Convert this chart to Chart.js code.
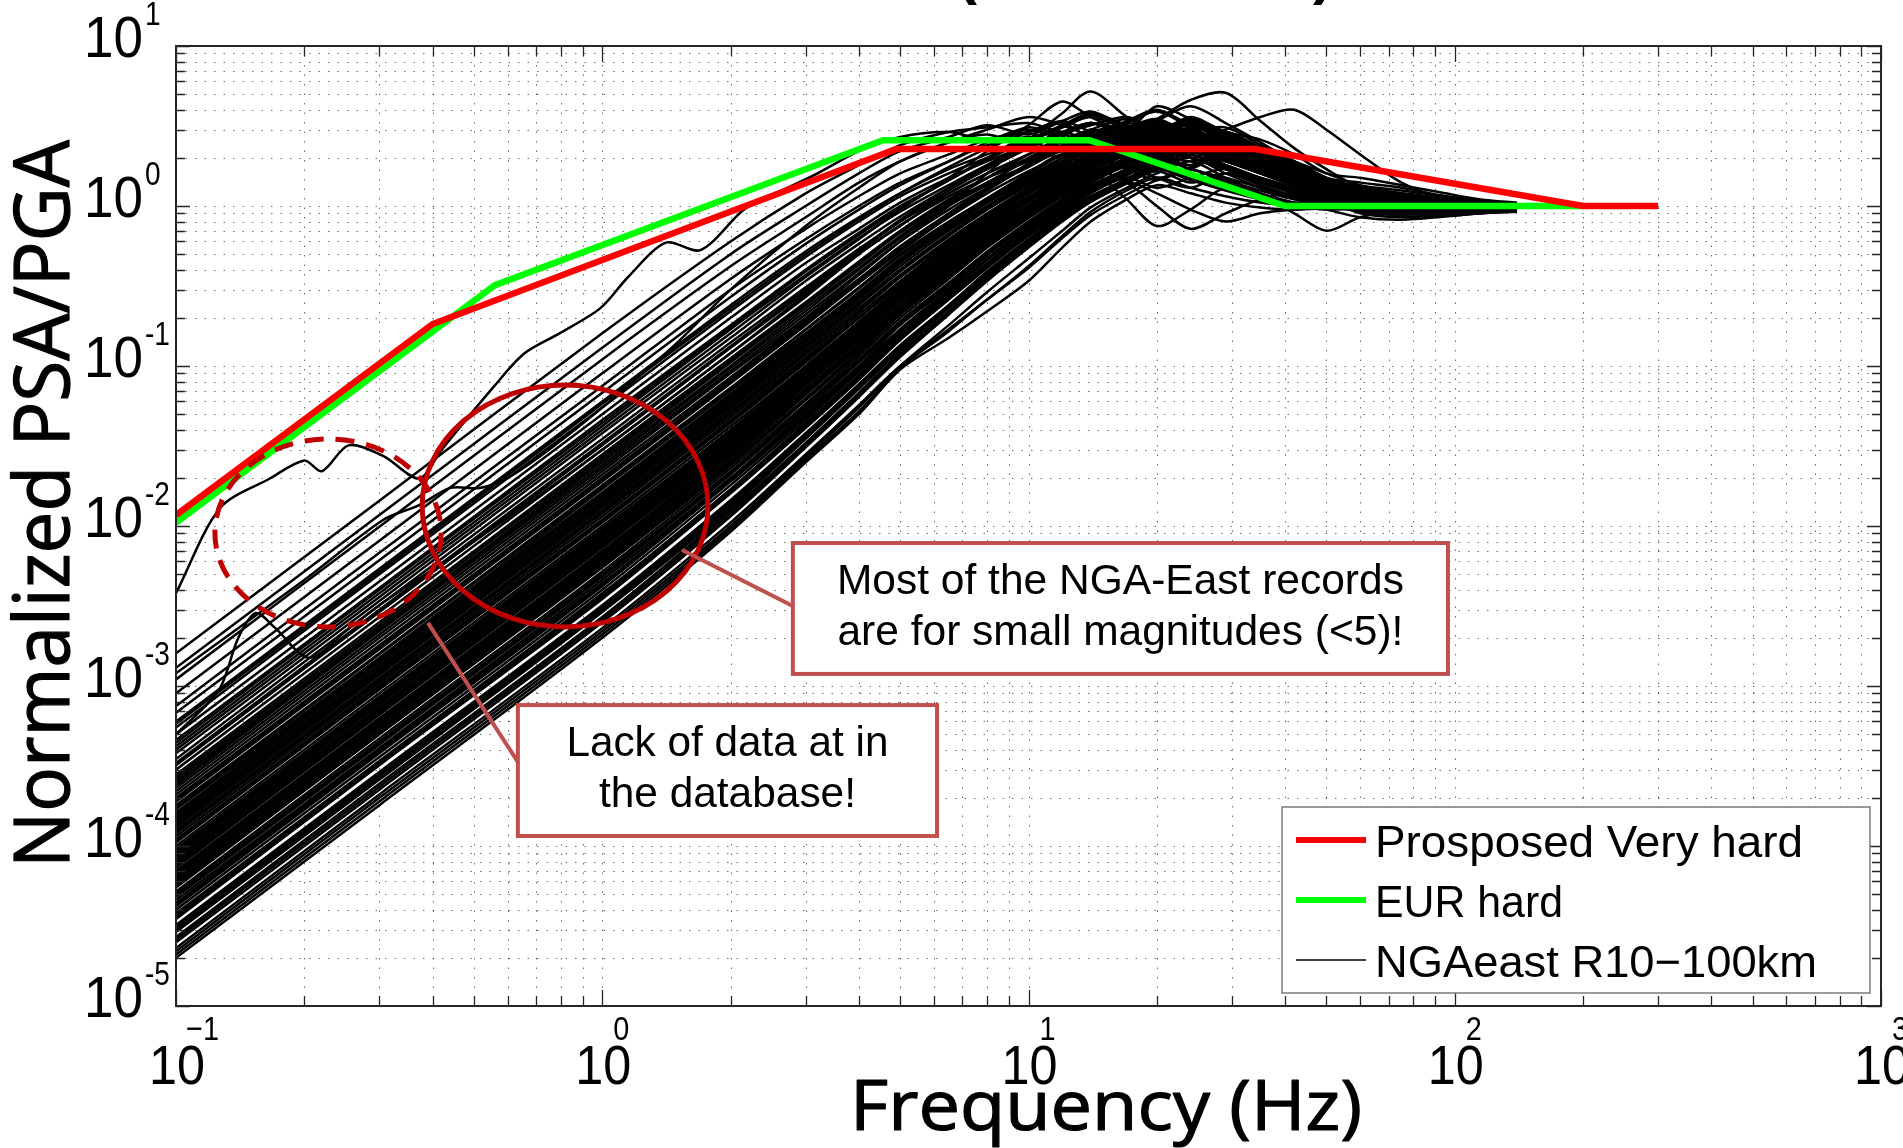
<!DOCTYPE html>
<html>
<head>
<meta charset="utf-8">
<title>Normalized PSA/PGA vs Frequency</title>
<script src="https://cdn.jsdelivr.net/npm/chart.js@4.4.1/dist/chart.umd.min.js"></script>
<style>
  html, body { margin: 0; padding: 0; background: #fff; }
  #wrap { width: 1903px; height: 1148px; overflow: hidden; }
</style>
</head>
<body>
<div id="wrap"><canvas id="psa-chart" width="1903" height="1148"></canvas></div>
<script>
"use strict";

// frequency grid (Hz) shared by the NGA-East records
const ngaFreq = [0.1, 0.3, 1, 2, 3, 4, 5, 6.5, 8, 10, 12, 14, 17, 20, 24, 29, 35, 42, 50, 60, 75, 95, 115, 140];

// normalized PSA/PGA of the NGA-East records (R 10-100 km), one row per record
const ngaRecords = [
    [1.6e-3, 0.0144, 0.16, 0.6, 1.2, 1.8, 2.4, 2.9, 3.1, 3.3, 2.9, 3.2, 3.6, 3.0, 2.6, 2.9, 2.3, 1.9, 1.6, 1.35, 1.25, 1.15, 1.08, 1.03],
    [1.3e-3, 0.0117, 0.13, 0.5, 1.0, 1.6, 2.2, 2.7, 3.2, 2.8, 3.4, 3.9, 3.1, 2.7, 3.3, 2.6, 2.0, 1.7, 1.45, 1.25, 1.1, 1.02, 1.0, 1.0],
    [1.1e-3, 0.0099, 0.11, 0.42, 0.85, 1.4, 1.9, 2.5, 3.0, 3.6, 3.2, 2.8, 3.4, 4.0, 3.2, 2.7, 2.2, 1.8, 1.5, 1.3, 1.12, 1.03, 1.0, 0.99],
    [9e-4, 8.1e-3, 0.09, 0.35, 0.72, 1.15, 1.6, 2.1, 2.6, 2.9, 3.3, 2.7, 3.1, 3.5, 2.8, 2.4, 2.0, 1.7, 1.4, 1.2, 1.08, 1.02, 1.0, 1.0],
    [7.5e-4, 6.8e-3, 0.075, 0.3, 0.62, 1.0, 1.4, 1.9, 2.4, 2.7, 2.5, 3.0, 2.6, 2.9, 3.4, 2.6, 1.9, 1.6, 1.35, 1.18, 1.06, 1.0, 0.98, 1.0],
    [6.8e-4, 6.1e-3, 0.068, 0.27, 0.58, 0.95, 1.35, 1.9, 2.5, 3.0, 2.6, 2.3, 2.7, 3.1, 2.6, 2.9, 2.3, 1.8, 1.45, 1.2, 1.07, 1.0, 1.0, 1.0],
    [6e-4, 5.4e-3, 0.06, 0.24, 0.52, 0.85, 1.2, 1.7, 2.1, 2.6, 3.1, 3.6, 3.0, 2.5, 2.9, 3.1, 2.4, 1.9, 1.5, 1.25, 1.18, 1.1, 1.05, 1.02],
    [5.8e-4, 5.2e-3, 0.058, 0.23, 0.5, 0.83, 1.2, 1.75, 2.3, 2.9, 3.4, 2.9, 2.4, 2.8, 3.5, 2.9, 2.3, 1.85, 1.5, 1.3, 1.18, 1.1, 1.05, 1.02],
    [5.5e-4, 5e-3, 0.055, 0.22, 0.48, 0.8, 1.15, 1.6, 2.0, 2.5, 2.2, 2.7, 2.3, 2.0, 2.4, 2.1, 1.8, 1.5, 1.3, 1.12, 1.03, 1.0, 1.0, 1.0],
    [5e-4, 4.5e-3, 0.05, 0.2, 0.44, 0.72, 1.05, 1.5, 1.9, 2.4, 2.8, 2.4, 2.9, 3.3, 2.7, 2.3, 2.1, 1.7, 1.4, 1.2, 1.08, 1.0, 0.97, 1.0],
    [4.6e-4, 4.1e-3, 0.046, 0.18, 0.4, 0.68, 1.0, 1.45, 1.95, 2.6, 3.2, 3.8, 3.2, 2.8, 3.3, 2.7, 2.3, 1.9, 1.5, 1.3, 1.2, 1.1, 1.04, 1.0],
    [4.4e-4, 4e-3, 0.044, 0.175, 0.39, 0.66, 0.97, 1.45, 2.0, 2.7, 2.3, 2.0, 2.6, 3.0, 2.5, 2.1, 1.75, 1.5, 1.3, 1.15, 1.05, 1.0, 0.97, 0.98],
    [4.2e-4, 3.8e-3, 0.042, 0.17, 0.37, 0.63, 0.92, 1.35, 1.8, 2.3, 2.0, 2.6, 3.1, 2.5, 2.2, 2.6, 2.2, 1.6, 1.3, 1.12, 1.03, 0.98, 1.0, 1.0],
    [4e-4, 3.6e-3, 0.04, 0.16, 0.36, 0.62, 0.95, 1.5, 2.2, 3.2, 4.5, 3.6, 3.0, 4.2, 3.5, 2.9, 2.6, 2.1, 1.6, 1.5, 1.35, 1.2, 1.1, 1.05],
    [3.8e-4, 3.4e-3, 0.038, 0.15, 0.34, 0.58, 0.86, 1.3, 1.75, 2.3, 2.8, 3.3, 2.8, 3.2, 2.7, 2.2, 1.9, 1.55, 1.3, 1.15, 1.05, 1.0, 1.0, 1.0],
    [3.5e-4, 3.2e-3, 0.035, 0.14, 0.31, 0.54, 0.8, 1.2, 1.6, 2.1, 2.6, 3.0, 3.5, 2.9, 3.6, 2.8, 2.0, 1.6, 1.35, 1.3, 1.2, 1.12, 1.05, 1.02],
    [3.3e-4, 3e-3, 0.033, 0.133, 0.3, 0.53, 0.82, 1.3, 1.8, 2.5, 3.1, 3.7, 3.1, 2.6, 2.9, 2.4, 2.0, 1.7, 1.45, 1.25, 1.12, 1.06, 1.02, 1.0],
    [3.2e-4, 2.9e-3, 0.032, 0.13, 0.29, 0.52, 0.8, 1.25, 1.7, 2.3, 2.9, 2.5, 2.2, 2.6, 3.0, 2.4, 2.0, 1.65, 1.35, 1.15, 1.05, 1.0, 1.0, 1.0],
    [3e-4, 2.7e-3, 0.03, 0.12, 0.28, 0.5, 0.76, 1.15, 1.5, 1.9, 2.3, 2.7, 2.2, 2.6, 2.4, 2.0, 1.7, 1.45, 1.25, 1.1, 1.02, 0.98, 1.0, 1.0],
    [2.8e-4, 2.5e-3, 0.028, 0.112, 0.25, 0.45, 0.7, 1.1, 1.5, 2.0, 2.5, 2.1, 2.5, 2.8, 3.2, 2.5, 2.0, 1.7, 1.4, 1.05, 0.92, 0.9, 0.93, 0.96],
    [2.7e-4, 2.4e-3, 0.027, 0.108, 0.245, 0.44, 0.69, 1.08, 1.5, 2.1, 2.7, 3.3, 2.8, 2.4, 2.2, 2.5, 2.0, 1.6, 1.3, 1.1, 0.97, 0.93, 0.95, 0.97],
    [2.6e-4, 2.3e-3, 0.026, 0.105, 0.24, 0.43, 0.68, 1.05, 1.4, 1.8, 2.4, 2.9, 3.3, 3.9, 3.1, 2.5, 2.2, 1.8, 1.45, 1.2, 1.07, 1.0, 1.0, 1.0],
    [2.5e-4, 2.25e-3, 0.025, 0.1, 0.23, 0.41, 0.65, 1.02, 1.4, 1.95, 2.5, 2.2, 2.7, 3.2, 2.8, 2.3, 1.9, 1.6, 1.35, 1.2, 1.1, 1.05, 1.02, 1.0],
    [2.4e-4, 2.2e-3, 0.024, 0.097, 0.22, 0.4, 0.63, 1.0, 1.35, 1.8, 2.3, 2.8, 2.4, 2.1, 2.5, 2.8, 2.1, 1.7, 1.4, 1.18, 1.05, 1.0, 1.0, 1.0],
    [2.3e-4, 2.1e-3, 0.023, 0.093, 0.21, 0.38, 0.6, 0.95, 1.3, 1.75, 2.2, 2.0, 2.5, 2.9, 2.3, 2.6, 1.9, 1.5, 1.3, 1.0, 0.9, 0.87, 0.9, 0.94],
    [2.2e-4, 2e-3, 0.022, 0.09, 0.2, 0.37, 0.6, 1.0, 1.6, 2.6, 3.8, 5.2, 3.6, 2.8, 3.2, 2.5, 1.9, 1.6, 1.35, 1.15, 1.05, 1.0, 1.0, 1.0],
    [2.1e-4, 1.9e-3, 0.021, 0.085, 0.195, 0.35, 0.56, 0.9, 1.3, 1.8, 2.4, 2.1, 1.8, 2.2, 2.0, 1.7, 1.5, 1.3, 1.15, 1.05, 1.0, 1.0, 1.0, 1.0],
    [2e-4, 1.8e-3, 0.02, 0.082, 0.19, 0.34, 0.53, 0.85, 1.2, 1.65, 2.1, 2.6, 3.2, 2.7, 3.0, 2.4, 1.8, 1.5, 1.25, 1.2, 1.15, 1.1, 1.05, 1.02],
    [1.95e-4, 1.75e-3, 0.0195, 0.08, 0.185, 0.34, 0.54, 0.88, 1.28, 1.85, 2.5, 2.1, 2.6, 2.3, 2.9, 2.4, 1.95, 1.6, 1.35, 1.15, 1.05, 1.0, 1.0, 1.0],
    [1.9e-4, 1.7e-3, 0.019, 0.078, 0.18, 0.33, 0.52, 0.86, 1.25, 1.8, 2.4, 3.0, 2.6, 3.3, 2.8, 2.4, 2.0, 1.6, 1.3, 1.12, 1.04, 1.0, 1.0, 1.0],
    [1.8e-4, 1.6e-3, 0.018, 0.073, 0.17, 0.31, 0.5, 0.8, 1.1, 1.5, 1.9, 2.3, 2.8, 3.4, 4.2, 3.3, 2.5, 1.9, 1.5, 1.4, 1.3, 1.15, 1.08, 1.03],
    [1.75e-4, 1.58e-3, 0.0175, 0.072, 0.168, 0.305, 0.49, 0.79, 1.12, 1.6, 2.1, 2.7, 3.1, 2.6, 2.3, 2.7, 2.2, 1.75, 1.4, 1.25, 1.15, 1.08, 1.03, 1.0],
    [1.7e-4, 1.5e-3, 0.017, 0.07, 0.16, 0.29, 0.47, 0.76, 1.05, 1.5, 2.0, 2.5, 2.2, 2.6, 3.1, 2.7, 2.3, 1.8, 1.45, 1.2, 1.06, 1.0, 1.0, 1.0],
    [1.62e-4, 1.46e-3, 0.0162, 0.067, 0.156, 0.285, 0.46, 0.76, 1.08, 1.55, 2.0, 2.5, 2.2, 2.0, 2.4, 2.1, 1.7, 1.35, 1.1, 0.95, 0.9, 0.92, 0.95, 0.97],
    [1.6e-4, 1.45e-3, 0.016, 0.066, 0.15, 0.28, 0.45, 0.72, 1.0, 1.4, 1.8, 2.2, 2.0, 2.4, 2.8, 2.2, 1.7, 1.4, 1.2, 1.08, 1.0, 0.98, 1.0, 1.0],
    [1.55e-4, 1.4e-3, 0.0155, 0.064, 0.148, 0.27, 0.44, 0.73, 1.05, 1.5, 2.0, 2.6, 3.3, 2.9, 3.4, 2.8, 2.2, 1.8, 1.45, 1.2, 1.06, 1.0, 1.0, 1.0],
    [1.5e-4, 1.35e-3, 0.015, 0.062, 0.145, 0.27, 0.44, 0.75, 1.1, 1.6, 2.1, 1.7, 1.1, 0.75, 0.95, 1.3, 1.15, 0.9, 0.7, 0.85, 0.95, 1.0, 1.0, 1.0],
    [1.45e-4, 1.3e-3, 0.0145, 0.06, 0.14, 0.26, 0.42, 0.7, 1.0, 1.45, 1.9, 2.5, 3.0, 2.6, 2.2, 2.5, 2.1, 1.6, 1.3, 1.2, 1.12, 1.06, 1.02, 1.0],
    [1.4e-4, 1.26e-3, 0.014, 0.058, 0.135, 0.25, 0.4, 0.66, 0.95, 1.4, 1.9, 2.4, 3.0, 3.5, 4.6, 5.1, 3.4, 2.3, 1.7, 1.3, 1.1, 1.02, 1.0, 1.0],
    [1.38e-4, 1.24e-3, 0.0138, 0.057, 0.133, 0.245, 0.4, 0.67, 0.97, 1.4, 1.85, 2.35, 2.9, 3.4, 2.9, 2.4, 2.0, 1.65, 1.35, 1.15, 1.05, 1.0, 1.0, 1.0],
    [1.35e-4, 1.2e-3, 0.0135, 0.056, 0.13, 0.24, 0.39, 0.65, 0.95, 1.35, 1.8, 2.3, 2.0, 1.7, 2.1, 2.4, 2.0, 1.6, 1.3, 1.1, 1.0, 0.95, 0.97, 1.0],
    [1.3e-4, 1.17e-3, 0.013, 0.054, 0.125, 0.23, 0.37, 0.62, 0.9, 1.3, 1.7, 2.1, 2.6, 3.1, 2.5, 2.0, 1.6, 1.35, 1.2, 1.08, 1.0, 1.0, 1.0, 1.0],
    [1.25e-4, 1.12e-3, 0.0125, 0.052, 0.12, 0.22, 0.36, 0.6, 0.86, 1.25, 1.65, 2.0, 2.5, 2.2, 2.6, 2.2, 1.75, 1.45, 1.25, 0.95, 0.9, 0.92, 0.95, 0.97],
    [1.22e-4, 1.1e-3, 0.0122, 0.051, 0.12, 0.22, 0.36, 0.61, 0.89, 1.3, 1.75, 2.25, 2.0, 2.5, 2.2, 1.9, 1.6, 1.4, 1.2, 1.08, 1.0, 0.97, 0.98, 1.0],
    [1.2e-4, 1.08e-3, 0.012, 0.05, 0.118, 0.22, 0.36, 0.6, 0.88, 1.25, 1.6, 1.95, 2.4, 2.9, 3.5, 2.8, 2.2, 1.8, 1.45, 1.2, 1.06, 1.0, 0.98, 1.0],
    [1.15e-4, 1.04e-3, 0.0115, 0.048, 0.113, 0.21, 0.34, 0.58, 0.85, 1.25, 1.7, 2.2, 2.9, 2.5, 2.8, 2.3, 1.85, 1.5, 1.25, 1.1, 1.02, 1.0, 1.0, 1.0],
    [1.1e-4, 1.0e-3, 0.011, 0.046, 0.11, 0.2, 0.33, 0.56, 0.82, 1.2, 1.55, 1.9, 2.3, 2.0, 2.3, 2.6, 2.0, 1.6, 1.3, 1.12, 1.03, 1.0, 1.0, 1.0],
    [1.08e-4, 9.7e-4, 0.0108, 0.045, 0.107, 0.2, 0.33, 0.56, 0.84, 1.22, 1.65, 2.1, 2.7, 3.2, 2.7, 2.9, 2.3, 1.8, 1.45, 1.2, 1.08, 1.03, 1.0, 1.0],
    [1.05e-4, 9.5e-4, 0.0105, 0.044, 0.105, 0.2, 0.32, 0.55, 0.82, 1.2, 1.6, 2.05, 2.6, 2.3, 2.0, 2.3, 1.9, 1.55, 1.3, 1.12, 1.03, 1.0, 1.0, 1.0],
    [1e-4, 9e-4, 0.01, 0.042, 0.1, 0.19, 0.31, 0.53, 0.8, 1.15, 1.5, 1.9, 2.5, 3.0, 2.6, 2.2, 1.8, 1.5, 1.28, 1.15, 1.12, 1.08, 1.03, 1.0],
    [9.6e-5, 8.6e-4, 0.0096, 0.04, 0.097, 0.185, 0.31, 0.52, 0.78, 1.12, 1.5, 1.85, 2.3, 2.8, 2.4, 2.0, 1.65, 1.4, 1.2, 1.07, 1.0, 1.0, 1.0, 1.0],
    [9.4e-5, 8.5e-4, 0.0094, 0.04, 0.096, 0.183, 0.305, 0.52, 0.78, 1.14, 1.55, 2.0, 2.5, 2.2, 1.9, 2.2, 1.85, 1.5, 1.25, 1.1, 1.02, 1.0, 1.0, 1.0],
    [9.2e-5, 8.3e-4, 0.0092, 0.039, 0.094, 0.18, 0.3, 0.5, 0.75, 1.1, 1.45, 1.8, 2.2, 2.6, 3.0, 2.3, 1.7, 1.4, 1.2, 1.08, 1.0, 1.0, 1.0, 1.0],
    [9e-5, 8.1e-4, 0.009, 0.038, 0.092, 0.178, 0.3, 0.5, 0.76, 1.1, 1.5, 1.95, 1.7, 1.45, 1.75, 2.0, 1.7, 1.4, 1.2, 1.06, 1.0, 1.0, 1.0, 1.0],
    [8.8e-5, 7.9e-4, 0.0088, 0.037, 0.09, 0.175, 0.29, 0.49, 0.74, 1.08, 1.45, 1.85, 2.3, 2.0, 2.4, 2.9, 2.3, 1.8, 1.4, 1.15, 1.04, 1.0, 1.0, 1.0],
    [8.6e-5, 7.8e-4, 0.0086, 0.036, 0.089, 0.172, 0.29, 0.49, 0.74, 1.08, 1.48, 1.95, 2.5, 3.0, 3.4, 2.7, 2.1, 1.7, 1.4, 1.2, 1.1, 1.05, 1.02, 1.0],
    [8.5e-5, 7.7e-4, 0.0085, 0.036, 0.088, 0.17, 0.28, 0.48, 0.72, 1.05, 1.4, 1.75, 2.1, 1.8, 2.2, 2.5, 2.2, 1.7, 1.35, 1.0, 0.92, 0.88, 0.92, 0.95],
    [8.2e-5, 7.4e-4, 0.0082, 0.035, 0.086, 0.165, 0.28, 0.48, 0.72, 1.05, 1.45, 1.9, 2.4, 2.1, 1.8, 2.2, 1.9, 1.55, 1.3, 1.12, 1.03, 1.0, 1.0, 1.0],
    [8e-5, 7.2e-4, 0.008, 0.034, 0.085, 0.165, 0.28, 0.47, 0.7, 1.0, 1.35, 1.8, 2.3, 2.8, 2.5, 3.0, 3.6, 4.0, 3.0, 2.1, 1.4, 1.1, 1.02, 1.0],
    [7.8e-5, 7e-4, 0.0078, 0.033, 0.082, 0.16, 0.27, 0.46, 0.7, 1.0, 1.35, 1.7, 2.2, 2.7, 3.3, 2.6, 2.0, 1.6, 1.3, 1.12, 1.03, 0.99, 1.0, 1.0],
    [7.6e-5, 6.8e-4, 0.0076, 0.032, 0.08, 0.155, 0.265, 0.45, 0.68, 1.0, 1.4, 1.85, 2.4, 2.9, 2.5, 2.1, 1.75, 1.45, 1.25, 1.2, 1.15, 1.08, 1.03, 1.0],
    [7.4e-5, 6.7e-4, 0.0074, 0.031, 0.078, 0.152, 0.26, 0.44, 0.68, 1.0, 1.38, 1.8, 2.3, 2.0, 2.3, 2.0, 1.65, 1.35, 1.15, 1.02, 0.95, 0.95, 0.97, 1.0],
    [7.3e-5, 6.6e-4, 0.0073, 0.031, 0.077, 0.15, 0.255, 0.44, 0.68, 1.0, 1.35, 1.7, 2.1, 2.6, 2.3, 2.7, 2.1, 1.6, 1.3, 1.12, 1.03, 1.0, 1.0, 1.0],
    [7e-5, 6.3e-4, 0.007, 0.03, 0.075, 0.145, 0.25, 0.43, 0.66, 0.98, 1.3, 1.6, 2.0, 2.4, 2.0, 1.8, 1.5, 1.25, 1.1, 0.9, 0.85, 0.88, 0.9, 0.93],
    [6.8e-5, 6.1e-4, 0.0068, 0.029, 0.072, 0.14, 0.24, 0.42, 0.65, 0.95, 1.3, 1.7, 1.4, 1.0, 0.72, 0.9, 1.1, 1.2, 1.05, 0.95, 0.98, 1.0, 1.0, 1.0],
    [6.6e-5, 6e-4, 0.0066, 0.028, 0.07, 0.137, 0.235, 0.41, 0.63, 0.95, 1.3, 1.7, 2.2, 2.7, 2.3, 1.95, 1.6, 1.35, 1.18, 1.06, 1.0, 1.0, 1.0, 1.0],
    [6.5e-5, 5.9e-4, 0.0065, 0.028, 0.07, 0.135, 0.23, 0.4, 0.62, 0.92, 1.25, 1.6, 2.0, 2.5, 2.9, 2.4, 1.9, 1.5, 1.25, 1.1, 1.02, 1.0, 1.0, 1.0],
    [6.4e-5, 5.8e-4, 0.0064, 0.0275, 0.069, 0.134, 0.23, 0.4, 0.62, 0.93, 1.27, 1.65, 2.1, 2.6, 2.3, 2.6, 2.1, 1.65, 1.35, 1.18, 1.08, 1.03, 1.0, 1.0],
    [6.2e-5, 5.6e-4, 0.0062, 0.027, 0.068, 0.132, 0.225, 0.39, 0.6, 0.9, 1.22, 1.55, 1.95, 2.4, 2.0, 1.7, 1.45, 1.25, 1.1, 0.97, 0.93, 0.9, 0.93, 0.96],
    [6e-5, 5.4e-4, 0.006, 0.026, 0.066, 0.13, 0.22, 0.38, 0.6, 0.9, 1.2, 1.5, 1.85, 2.2, 2.6, 2.0, 1.6, 1.35, 1.18, 1.06, 1.0, 0.98, 1.0, 1.0],
    [5.8e-5, 5.2e-4, 0.0058, 0.025, 0.063, 0.125, 0.215, 0.37, 0.58, 0.88, 1.2, 1.5, 1.9, 2.3, 2.7, 2.2, 1.75, 1.4, 1.2, 1.07, 1.0, 1.0, 1.0, 1.0],
    [5.6e-5, 5e-4, 0.0056, 0.0245, 0.062, 0.122, 0.21, 0.365, 0.57, 0.86, 1.18, 1.5, 1.9, 2.3, 2.0, 1.75, 1.5, 1.3, 1.12, 1.0, 0.93, 0.93, 0.96, 0.98],
    [5.5e-5, 5e-4, 0.0055, 0.024, 0.061, 0.12, 0.21, 0.36, 0.56, 0.85, 1.15, 1.45, 1.8, 1.5, 1.7, 2.1, 1.8, 1.5, 1.25, 1.1, 1.02, 1.0, 1.0, 1.0],
    [5.2e-5, 4.7e-4, 0.0052, 0.023, 0.058, 0.115, 0.2, 0.35, 0.55, 0.84, 1.15, 1.5, 1.9, 2.3, 2.6, 2.2, 1.8, 1.45, 1.2, 1.15, 1.1, 1.05, 1.02, 1.0],
    [5e-5, 4.5e-4, 0.005, 0.022, 0.056, 0.11, 0.19, 0.33, 0.52, 0.8, 1.1, 1.4, 1.8, 2.2, 2.0, 1.7, 1.45, 1.25, 1.1, 1.02, 0.98, 0.98, 1.0, 1.0],
    [4.9e-5, 4.4e-4, 0.0049, 0.0215, 0.055, 0.108, 0.19, 0.33, 0.51, 0.79, 1.1, 1.45, 1.85, 2.3, 2.7, 2.3, 1.85, 1.5, 1.25, 1.12, 1.05, 1.02, 1.0, 1.0],
    [4.8e-5, 4.3e-4, 0.0048, 0.021, 0.054, 0.105, 0.185, 0.32, 0.5, 0.78, 1.08, 1.4, 1.75, 1.5, 1.3, 1.6, 1.4, 1.2, 1.05, 0.95, 0.9, 0.93, 0.96, 0.98],
    [4.6e-5, 4.1e-4, 0.0046, 0.02, 0.052, 0.1, 0.18, 0.31, 0.49, 0.76, 1.05, 1.35, 1.7, 2.1, 2.5, 2.1, 1.7, 1.4, 1.2, 1.08, 1.0, 1.0, 1.0, 1.0],
    [4.4e-5, 4e-4, 0.0044, 0.0195, 0.05, 0.098, 0.17, 0.3, 0.47, 0.74, 1.02, 1.32, 1.65, 2.0, 1.7, 1.5, 1.3, 1.15, 1.05, 0.92, 0.88, 0.92, 0.95, 0.97],
    [4.3e-5, 3.9e-4, 0.0043, 0.019, 0.049, 0.097, 0.168, 0.295, 0.465, 0.73, 1.01, 1.33, 1.7, 2.05, 1.8, 2.1, 1.75, 1.4, 1.2, 1.07, 1.0, 0.97, 0.98, 1.0],
    [4.2e-5, 3.8e-4, 0.0042, 0.019, 0.048, 0.095, 0.165, 0.29, 0.46, 0.72, 1.0, 1.3, 1.6, 1.9, 1.6, 1.4, 1.2, 1.05, 0.95, 0.85, 0.82, 0.86, 0.9, 0.92],
    [4e-5, 3.6e-4, 0.004, 0.018, 0.046, 0.092, 0.16, 0.28, 0.44, 0.7, 0.97, 1.27, 1.6, 1.9, 2.2, 1.8, 1.45, 1.2, 1.06, 1.0, 0.98, 1.0, 1.0, 1.0],
    [3.8e-5, 3.4e-4, 0.0038, 0.017, 0.044, 0.088, 0.155, 0.27, 0.43, 0.68, 0.95, 1.25, 1.6, 2.0, 2.4, 2.0, 1.6, 1.35, 1.15, 1.05, 1.0, 1.0, 1.0, 1.0],
    [3.7e-5, 3.3e-4, 0.0037, 0.0168, 0.043, 0.086, 0.152, 0.27, 0.43, 0.68, 0.95, 1.25, 1.6, 1.95, 1.7, 1.45, 1.25, 1.1, 1.0, 0.93, 0.9, 0.93, 0.96, 0.98],
    [3.6e-5, 3.25e-4, 0.0036, 0.0165, 0.042, 0.085, 0.15, 0.265, 0.42, 0.67, 0.93, 1.22, 1.55, 1.9, 2.2, 1.8, 1.45, 1.2, 1.05, 0.95, 0.9, 0.92, 0.95, 0.98],
    [3.5e-5, 3.2e-4, 0.0035, 0.016, 0.041, 0.082, 0.145, 0.26, 0.41, 0.65, 0.9, 1.2, 1.5, 1.3, 1.5, 1.7, 1.4, 1.2, 1.06, 1.0, 0.98, 1.0, 1.0, 1.0],
    [3.2e-5, 2.9e-4, 0.0032, 0.0145, 0.038, 0.077, 0.135, 0.24, 0.39, 0.62, 0.88, 1.15, 1.45, 1.75, 2.0, 1.6, 1.3, 1.12, 1.03, 0.99, 0.98, 1.0, 1.0, 1.0],
    [3.1e-5, 2.8e-4, 0.0031, 0.014, 0.037, 0.076, 0.133, 0.24, 0.385, 0.62, 0.87, 1.15, 1.48, 1.85, 2.2, 1.8, 1.45, 1.2, 1.05, 1.0, 0.98, 1.0, 1.0, 1.0],
    [3e-5, 2.7e-4, 0.003, 0.0135, 0.036, 0.074, 0.13, 0.235, 0.38, 0.61, 0.86, 1.13, 1.45, 1.75, 1.5, 1.3, 1.15, 1.05, 1.1, 1.1, 1.08, 1.05, 1.02, 1.0],
    [2.9e-5, 2.6e-4, 0.0029, 0.013, 0.035, 0.072, 0.125, 0.23, 0.37, 0.6, 0.85, 1.1, 1.4, 1.2, 0.95, 0.8, 0.9, 0.95, 0.98, 1.0, 1.0, 1.0, 1.0, 1.0],
    [2.7e-5, 2.45e-4, 0.0027, 0.0125, 0.033, 0.068, 0.12, 0.22, 0.36, 0.58, 0.83, 1.1, 1.45, 1.8, 2.1, 1.7, 1.35, 1.15, 1.03, 0.98, 0.97, 1.0, 1.0, 1.0],
    [2.6e-5, 2.35e-4, 0.0026, 0.012, 0.032, 0.066, 0.118, 0.215, 0.35, 0.57, 0.82, 1.08, 1.4, 1.7, 1.45, 1.25, 1.1, 1.0, 0.95, 0.97, 1.0, 1.0, 1.0, 1.0],
    [2.5e-5, 2.25e-4, 0.0025, 0.0115, 0.031, 0.064, 0.114, 0.21, 0.34, 0.55, 0.8, 1.06, 1.38, 1.65, 1.4, 1.6, 1.35, 1.15, 1.02, 0.96, 0.95, 0.97, 1.0, 1.0],
    [2.3e-5, 2.1e-4, 0.0023, 0.0105, 0.028, 0.057, 0.1, 0.17, 0.26, 0.42, 0.65, 0.92, 1.25, 1.5, 1.3, 1.15, 1.05, 1.0, 0.98, 1.0, 1.0, 1.0, 1.0, 1.0],
    [2.2e-5, 2e-4, 0.0022, 0.01, 0.027, 0.055, 0.1, 0.18, 0.29, 0.47, 0.7, 0.98, 1.3, 1.6, 1.9, 1.5, 1.2, 1.05, 1.0, 0.98, 1.0, 1.0, 1.0, 1.0],
    [2.1e-5, 1.9e-4, 0.0021, 0.0096, 0.026, 0.052, 0.097, 0.165, 0.26, 0.41, 0.63, 0.88, 1.18, 1.45, 1.7, 1.4, 1.15, 1.02, 0.97, 0.97, 1.0, 1.0, 1.0, 1.0],
    [2e-5, 1.8e-4, 0.002, 0.0092, 0.025, 0.05, 0.095, 0.15, 0.22, 0.34, 0.55, 0.8, 1.1, 1.35, 1.2, 1.05, 0.98, 0.95, 0.97, 1.0, 1.0, 1.0, 1.0, 1.0]
];

// three records with irregular low-frequency content (own frequency samples)
const oddAFreq = [0.1, 0.127, 0.166, 0.2, 0.22, 0.254, 0.306, 0.372, 0.42, 0.556, 0.657, 0.794, 0.99, 1.15, 1.41, 1.7, 2.14, 2.42, 3.2, 4, 5, 6.5, 8, 10, 12, 14, 17, 20, 24, 29, 35, 42, 50, 60, 75, 95, 115, 140];
const oddAVal = [3.8e-3, 0.013, 0.0198, 0.0257, 0.022, 0.0319, 0.0274, 0.0198, 0.03, 0.074, 0.12, 0.16, 0.23, 0.36, 0.59, 0.53, 0.94, 1.12, 1.6, 2.2, 2.7, 2.9, 2.6, 3.1, 2.8, 3.3, 2.7, 2.4, 2.7, 2.2, 1.8, 1.5, 1.3, 1.15, 1.05, 1.0, 1.0, 1.0];
const oddBFreq = [0.1, 0.126, 0.14, 0.154, 0.171, 0.205, 0.25, 0.3, 0.5, 1, 2, 3, 4, 5, 6.5, 8, 10, 12, 14, 17, 20, 24, 29, 35, 42, 50, 60, 75, 95, 115, 140];
const oddBVal = [5e-4, 9.4e-4, 2e-3, 2.86e-3, 2.3e-3, 1.5e-3, 2.2e-3, 3.2e-3, 8e-3, 0.03, 0.12, 0.27, 0.5, 0.75, 1.2, 1.6, 2.1, 2.6, 2.3, 2.8, 2.5, 2.2, 1.9, 1.6, 1.4, 1.2, 1.1, 1.03, 1.0, 1.0, 1.0];
const oddCFreq = [0.1, 0.2, 0.306, 0.372, 0.44, 0.516, 0.6, 0.75, 1, 1.5, 2, 3, 4, 5, 6.5, 8, 10, 12, 14, 17, 20, 24, 29, 35, 42, 50, 60, 75, 95, 115, 140];
const oddCVal = [1.2e-3, 4.6e-3, 0.0109, 0.0135, 0.0173, 0.0173, 0.02, 0.03, 0.055, 0.14, 0.3, 0.75, 1.3, 1.9, 2.5, 2.8, 2.4, 2.9, 3.3, 2.8, 3.1, 2.6, 2.3, 1.9, 1.6, 1.35, 1.15, 1.05, 1.0, 1.0, 1.0];

// proposed very hard rock shape and EUR hard rock shape (corner points)
const proposedFreq = [0.1, 0.4, 4.9, 34, 200, 300];
const proposedVal = [0.0117, 0.183, 2.27, 2.27, 1.0, 1.0];
const eurFreq = [0.1, 0.56, 4.56, 13.9, 40, 200];
const eurVal = [0.0105, 0.32, 2.58, 2.58, 1.0, 1.0];

const legendLabels = ["Prosposed Very hard", "EUR hard", "NGAeast R10\u2212100km"];
const xDecades = [-1, 0, 1, 2, 3];
const yDecades = [-5, -4, -3, -2, -1, 0, 1];

// annotation layout (data units for anchors)
const notes = {
    dashed: { f: [0.1234, 0.419], v: [0.035, 0.00234] },
    solid: { f: [0.378, 1.77], v: [0.076, 0.00234] },
    boxes: [
        { f: [2.80, 96.4], v: [7.83e-3, 1.19e-3], lines: ["Most of the NGA-East records", "are for small magnitudes (<5)!"], widths: [567, 566], from: [1.54, 7.08e-3], to: [2.86, 3.07e-3] },
        { f: [0.634, 6.10], v: [7.6e-4, 1.155e-4], lines: ["Lack of data at in", "the database!"], widths: [322, 257], from: [0.39, 2.48e-3], to: [0.645, 3.12e-4] }
    ]
};

const SANS = "'Liberation Sans', Arial, sans-serif";
const HUMAN = "'Open Sans', 'Noto Sans', sans-serif";
const NOTE_RED = "#c0504d";
const RING_RED = "#c00000";

function toPoints(freqs, vals) {
    return freqs.map((f, i) => ({ x: f, y: vals[i] }));
}

// draw text squeezed/stretched to a given width (or by a fixed factor)
function fitText(ctx, text, x, y, font, align, width, squeeze, thicken) {
    ctx.font = font;
    const w = ctx.measureText(text).width;
    const sx = width ? width / w : (squeeze || 1);
    ctx.save();
    ctx.translate(x, y);
    ctx.scale(sx, 1);
    ctx.textAlign = align;
    ctx.textBaseline = "alphabetic";
    ctx.fillText(text, 0, 0);
    if (thicken) {
        ctx.strokeStyle = ctx.fillStyle;
        ctx.lineWidth = thicken;
        ctx.lineJoin = "round";
        ctx.strokeText(text, 0, 0);
    }
    ctx.restore();
}

function logSteps(minExp, maxExp) {
    const out = [];
    for (let e = minExp; e < maxExp; e++) {
        for (let m = 1; m < 10; m++) {
            out.push({ value: m * Math.pow(10, e), major: m === 1 });
        }
    }
    out.push({ value: Math.pow(10, maxExp), major: true });
    return out;
}

function expText(e, minus) {
    return e < 0 ? minus + Math.abs(e) : String(e);
}

const decorPlugin = {
    id: "decor",
    beforeDraw(chart) {
        const ctx = chart.ctx;
        ctx.save();
        ctx.fillStyle = "#fff";
        ctx.fillRect(0, 0, chart.width, chart.height);
        ctx.restore();
    },
    beforeDatasetsDraw(chart) {
        const { ctx, chartArea: a, scales: { x, y } } = chart;
        ctx.save();
        ctx.strokeStyle = "rgba(30,30,30,0.65)";
        ctx.lineWidth = 1;
        ctx.setLineDash([1.5, 8]);
        logSteps(-1, 3).forEach(t => {
            const px = Math.round(x.getPixelForValue(t.value)) + 0.5;
            if (px <= a.left + 2 || px >= a.right - 2) return;
            ctx.beginPath();
            ctx.moveTo(px, a.top);
            ctx.lineTo(px, a.bottom);
            ctx.stroke();
        });
        logSteps(-5, 1).forEach(t => {
            const py = Math.round(y.getPixelForValue(t.value)) + 0.5;
            if (py <= a.top + 2 || py >= a.bottom - 2) return;
            ctx.beginPath();
            ctx.moveTo(a.left, py);
            ctx.lineTo(a.right, py);
            ctx.stroke();
        });
        ctx.restore();
    },
    afterDatasetsDraw(chart) {
        const { ctx, chartArea: a, scales: { x, y } } = chart;
        const X = f => x.getPixelForValue(f);
        const Y = v => y.getPixelForValue(v);

        // frame and inward ticks
        ctx.save();
        ctx.strokeStyle = "#262626";
        ctx.lineWidth = 2;
        ctx.strokeRect(a.left, a.top, a.right - a.left, a.bottom - a.top);
        ctx.lineWidth = 1.3;
        ctx.beginPath();
        logSteps(-1, 3).forEach(t => {
            const px = Math.round(X(t.value)) + 0.5;
            const len = t.major ? 16 : 10;
            ctx.moveTo(px, a.bottom); ctx.lineTo(px, a.bottom - len);
            ctx.moveTo(px, a.top); ctx.lineTo(px, a.top + len);
        });
        logSteps(-5, 1).forEach(t => {
            const py = Math.round(Y(t.value)) + 0.5;
            const len = t.major ? 14 : 9;
            ctx.moveTo(a.left, py); ctx.lineTo(a.left + len, py);
            ctx.moveTo(a.right, py); ctx.lineTo(a.right - len, py);
        });
        ctx.stroke();
        ctx.restore();

        // tick labels 10^n
        ctx.save();
        ctx.fillStyle = "#000";
        yDecades.forEach(e => {
            const py = Y(Math.pow(10, e));
            fitText(ctx, "10", a.left - 33, py + 11, "57px " + SANS, "right", 59);
            fitText(ctx, expText(e, "-"), a.left - 31, py - 21, "33px " + SANS, "left", 0, 0.85);
        });
        xDecades.forEach(e => {
            const px = X(Math.pow(10, e));
            fitText(ctx, "10", px + 1, a.bottom + 78, "56px " + SANS, "center", 56);
            fitText(ctx, expText(e, "\u2212"), px + (e < 0 ? 10 : 11), a.bottom + 34, "34px " + SANS, "left", 0, 0.85);
        });

        // axis titles
        ctx.save();
        ctx.translate(69, 504);
        ctx.rotate(-Math.PI / 2);
        fitText(ctx, "Normalized PSA/PGA", 0, 0, "77px " + HUMAN, "center", 728, 0, 1.2);
        ctx.restore();
        fitText(ctx, "Frequency (Hz)", 1106, a.bottom + 124, "70px " + HUMAN, "center", 512, 0, 1.2);

        // bottom of the clipped figure title
        ctx.font = "bold 60px " + SANS;
        ctx.textAlign = "center";
        ctx.fillText("(", 967, -7);
        ctx.fillText(")", 1323, -7);
        ctx.restore();

        // ellipses
        ctx.save();
        ctx.strokeStyle = RING_RED;
        ctx.lineWidth = 5;
        [notes.dashed, notes.solid].forEach((el, i) => {
            const x0 = X(el.f[0]), x1 = X(el.f[1]);
            const y0 = Y(el.v[0]), y1 = Y(el.v[1]);
            ctx.setLineDash(i === 0 ? [19, 12] : []);
            ctx.beginPath();
            ctx.ellipse((x0 + x1) / 2, (y0 + y1) / 2, (x1 - x0) / 2, (y1 - y0) / 2, 0, 0, Math.PI * 2);
            ctx.stroke();
        });
        ctx.restore();

        // callout boxes
        notes.boxes.forEach(b => {
            const x0 = X(b.f[0]), x1 = X(b.f[1]);
            const y0 = Y(b.v[0]), y1 = Y(b.v[1]);
            ctx.save();
            ctx.strokeStyle = NOTE_RED;
            ctx.lineWidth = 4;
            ctx.beginPath();
            ctx.moveTo(X(b.from[0]), Y(b.from[1]));
            ctx.lineTo(X(b.to[0]), Y(b.to[1]));
            ctx.stroke();
            ctx.fillStyle = "#fff";
            ctx.fillRect(x0, y0, x1 - x0, y1 - y0);
            ctx.strokeRect(x0, y0, x1 - x0, y1 - y0);
            ctx.fillStyle = "#000";
            b.lines.forEach((t, i) => {
                fitText(ctx, t, (x0 + x1) / 2, y0 + 51 + i * 51, "42px " + SANS, "center", b.widths[i]);
            });
            ctx.restore();
        });

        // legend (south-east, inside axes)
        const lg = { left: a.right - 599, top: a.bottom - 199, right: a.right - 11, bottom: a.bottom - 13 };
        ctx.save();
        ctx.fillStyle = "#fff";
        ctx.fillRect(lg.left, lg.top, lg.right - lg.left, lg.bottom - lg.top);
        ctx.strokeStyle = "#7a7a7a";
        ctx.lineWidth = 1.5;
        ctx.strokeRect(lg.left, lg.top, lg.right - lg.left, lg.bottom - lg.top);
        const sw = [["#ff0000", 6], ["#00ff00", 6], ["#000000", 1.6]];
        const widths = [428, 188, 442];
        legendLabels.forEach((t, i) => {
            const ly = lg.top + 33 + i * 60;
            ctx.strokeStyle = sw[i][0];
            ctx.lineWidth = sw[i][1];
            ctx.beginPath();
            ctx.moveTo(lg.left + 14, ly);
            ctx.lineTo(lg.left + 84, ly);
            ctx.stroke();
            ctx.fillStyle = "#000";
            fitText(ctx, t, lg.left + 93, ly + 17, "45px " + SANS, "left", widths[i]);
        });
        ctx.restore();
    }
};

const datasets = [
    {
        label: legendLabels[0],
        data: toPoints(proposedFreq, proposedVal),
        borderColor: "#ff0000",
        borderWidth: 6.5,
        pointRadius: 0,
        tension: 0
    },
    {
        label: legendLabels[1],
        data: toPoints(eurFreq, eurVal),
        borderColor: "#00ff00",
        borderWidth: 6.5,
        pointRadius: 0,
        tension: 0
    }
];
const recordLines = ngaRecords.map(vals => toPoints(ngaFreq, vals))
    .concat([toPoints(oddAFreq, oddAVal), toPoints(oddBFreq, oddBVal), toPoints(oddCFreq, oddCVal)]);
recordLines.forEach(points => {
    datasets.push({
        label: legendLabels[2],
        data: points,
        borderColor: "#000000",
        borderWidth: 2.5,
        pointRadius: 0,
        tension: 0.3
    });
});

new Chart(document.getElementById("psa-chart"), {
    type: "line",
    data: { datasets },
    options: {
        responsive: false,
        animation: false,
        devicePixelRatio: 1,
        layout: { padding: { left: 176, top: 46, right: 22, bottom: 142 } },
        plugins: {
            legend: { display: false },
            tooltip: { enabled: false }
        },
        scales: {
            x: { type: "logarithmic", min: 0.1, max: 1000, display: false },
            y: { type: "logarithmic", min: 1e-5, max: 10, display: false }
        }
    },
    plugins: [decorPlugin]
});
</script>
</body>
</html>
